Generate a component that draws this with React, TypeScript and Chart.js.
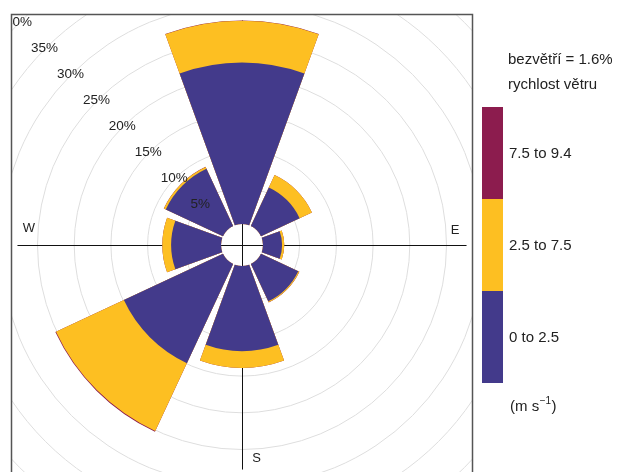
import React, { useEffect, useRef } from 'react';
import { Chart, registerables } from 'chart.js';

Chart.register(...registerables);

// ---- data ----
const directions = ['N', 'NE', 'E', 'SE', 'S', 'SW', 'W', 'NW'];
const speedBins = ['0 to 2.5', '2.5 to 7.5', '7.5 to 9.4'];
const speedLow = [22.0, 5.8, 2.6, 5.6, 11.6, 14.9, 6.8, 8.6];
const speedMid = [5.7, 1.85, 0.3, 0.15, 2.3, 10.2, 1.2, 0.28];
const speedHigh = [0.03, 0, 0, 0.02, 0, 0.1, 0, 0.02];
const calmPercent = 1.6;
const gridTicks = [5, 10, 15, 20, 25, 30, 35, 40];
const compassLabels = ['N', 'E', 'S', 'W'];
const binColors = ['#433A8B', '#FDBF22', '#8C1C4E'];

const legendTitle = 'bezvětří = ' + calmPercent + '%';
const legendSubtitle = 'rychlost větru';

// geometry (not data)
const PX_PER_PCT = 7.34;
const HOLE = 21;
const HALF = 350;
const R_MIN = -HOLE / PX_PER_PCT;
const R_MAX = R_MIN + HALF / PX_PER_PCT;
const BAR_ANGLE = 40;
const GAP_ANGLE = 5;
const FONT = '"Liberation Sans", Arial, Helvetica, sans-serif';
const TEXT = '#222222';

function cumulative(level: number): number[] {
  return directions.map((_, i) => {
    let s = speedLow[i];
    if (level >= 1) s += speedMid[i];
    if (level >= 2) s += speedHigh[i];
    return s;
  });
}

function interleave(vals: number[]): number[] {
  const out: number[] = [];
  vals.forEach((v) => {
    out.push(v, 0);
  });
  return out;
}

const segLabels: string[] = [];
directions.forEach((d) => segLabels.push(d, ''));
const segAngles: number[] = [];
directions.forEach(() => segAngles.push(BAR_ANGLE, GAP_ANGLE));

export default function App() {
  const ref = useRef<HTMLCanvasElement | null>(null);

  useEffect(() => {
    if (!ref.current) return;
    const frame = { x: 119.5, y: 119.5, w: 461, h: 461 };

    const roseDeco = {
      id: 'roseDeco',
      beforeDraw(chart: any) {
        const ctx = chart.ctx;
        ctx.save();
        ctx.beginPath();
        ctx.rect(frame.x, frame.y, frame.w, frame.h);
        ctx.clip();
      },
      beforeDatasetsDraw(chart: any) {
        const ctx = chart.ctx;
        const r = chart.scales.r;
        const cx = r.xCenter;
        const cy = r.yCenter;
        const inner = r.getDistanceFromCenterForValue(0);
        chart.data.datasets.forEach((_: any, di: number) => {
          const meta = chart.getDatasetMeta(di);
          meta.data.forEach((arc: any) => {
            arc.innerRadius = inner;
          });
        });
        // crosshair
        const totals = cumulative(2);
        const maxTot = Math.max(...totals);
        const L = r.getDistanceFromCenterForValue(maxTot);
        ctx.save();
        ctx.strokeStyle = '#111';
        ctx.lineWidth = 1;
        ctx.beginPath();
        ctx.moveTo(cx - L, cy + 0.5);
        ctx.lineTo(cx + L, cy + 0.5);
        ctx.moveTo(cx + 0.5, cy - L);
        ctx.lineTo(cx + 0.5, cy + L);
        ctx.stroke();
        // compass labels
        ctx.fillStyle = TEXT;
        ctx.font = '13px ' + FONT;
        ctx.textAlign = 'center';
        ctx.textBaseline = 'middle';
        const d = 213;
        const pos: Record<string, [number, number]> = {
          N: [-15, -d],
          E: [d, -15],
          S: [14.5, d],
          W: [-d, -17],
        };
        compassLabels.forEach((lab) => {
          const p = pos[lab];
          ctx.fillText(lab, cx + p[0], cy + p[1]);
        });
        ctx.restore();
      },
      afterDatasetsDraw(chart: any) {
        const ctx = chart.ctx;
        const r = chart.scales.r;
        const cx = r.xCenter;
        const cy = r.yCenter;
        ctx.save();
        ctx.fillStyle = TEXT;
        ctx.font = '13.5px ' + FONT;
        ctx.textAlign = 'center';
        ctx.textBaseline = 'middle';
        const k = Math.SQRT1_2;
        gridTicks.forEach((v) => {
          const dist = r.getDistanceFromCenterForValue(v);
          ctx.fillText(v + '%', cx - dist * k - 1, cy - dist * k);
        });
        ctx.restore();
      },
      afterDraw(chart: any) {
        const ctx = chart.ctx;
        ctx.restore();
        // frame
        ctx.save();
        ctx.strokeStyle = '#555';
        ctx.lineWidth = 1.5;
        ctx.strokeRect(frame.x, frame.y, frame.w, frame.h);
        // legend
        ctx.fillStyle = TEXT;
        ctx.font = '15px ' + FONT;
        ctx.textAlign = 'left';
        ctx.textBaseline = 'middle';
        const tx = 616;
        ctx.fillText(legendTitle, tx, 165);
        ctx.fillText(legendSubtitle, tx, 190);
        const barX = 590;
        const barW = 21;
        const top = 212;
        const segH = 92;
        const n = speedBins.length;
        for (let i = 0; i < n; i++) {
          const idx = n - 1 - i;
          const y0 = top + i * segH;
          ctx.fillStyle = binColors[idx];
          ctx.fillRect(barX, y0, barW, segH);
          ctx.fillStyle = TEXT;
          ctx.fillText(speedBins[idx], tx + 1, y0 + segH / 2 + 1);
        }
        // units
        const uy = 512;
        let x = tx + 2;
        ctx.fillText('(m s', x, uy);
        x += ctx.measureText('(m s').width;
        ctx.font = '10px ' + FONT;
        ctx.fillText('\u22121', x + 0.5, uy - 6);
        x += ctx.measureText('\u22121').width + 1;
        ctx.font = '15px ' + FONT;
        ctx.fillText(')', x, uy);
        ctx.restore();
      },
    };

    const datasets = [0, 1, 2].map((lvl) => ({
      label: speedBins[lvl],
      data: interleave(cumulative(lvl)),
      angle: segAngles,
      backgroundColor: segLabels.map((l) => (l ? binColors[lvl] : 'rgba(0,0,0,0)')),
      borderWidth: 0,
    }));

    const chart = new Chart(ref.current, {
      type: 'polarArea',
      data: { labels: segLabels, datasets },
      options: {
        responsive: false,
        animation: false,
        events: [],
        layout: { padding: { left: 0, top: 0, right: 40, bottom: 0 } },
        plugins: { legend: { display: false }, tooltip: { enabled: false } },
        scales: {
          r: {
            min: R_MIN,
            max: R_MAX,
            startAngle: -BAR_ANGLE / 2,
            angleLines: { display: false },
            pointLabels: { display: false },
            ticks: { display: false },
            grid: { color: '#dedede', lineWidth: 1, circular: true },
            afterBuildTicks: (scale: any) => {
              scale.ticks = gridTicks.map((v) => ({ value: v }));
            },
          },
        },
      } as any,
      plugins: [roseDeco],
    });
    return () => chart.destroy();
  }, []);

  return (
    <div
      style={{
        position: 'fixed',
        left: 0,
        top: 0,
        width: 619,
        height: 472,
        overflow: 'hidden',
        background: '#fff',
      }}
    >
      <canvas
        ref={ref}
        width={740}
        height={700}
        style={{ position: 'absolute', left: -108, top: -105, width: 740, height: 700 }}
      />
    </div>
  );
}
